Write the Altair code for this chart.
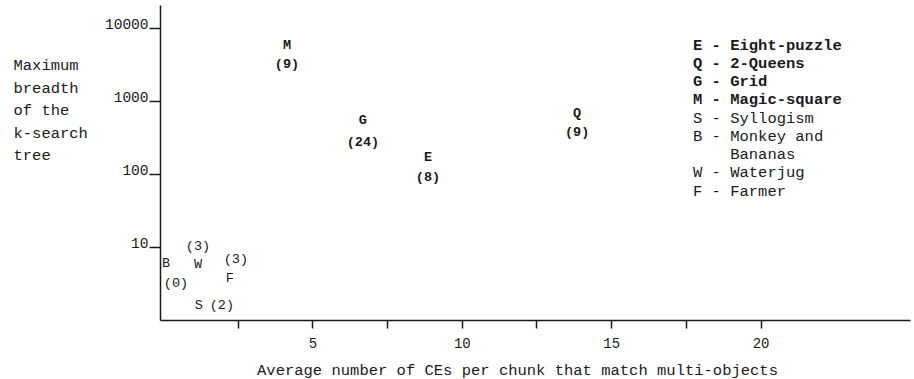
import altair as alt
import pandas as pd

# Problem domains: plotted letter, average CEs per chunk matching multi-objects,
# maximum breadth of the k-search tree, and the count shown in parentheses
letters = ["M", "G", "E", "Q", "B", "W", "F", "S"]
avg_ces = [4.15, 6.69, 8.87, 13.86, 0.1, 1.17, 2.24, 1.2]
max_breadth = [6000, 555, 172, 700, 6.05, 5.9, 3.8, 1.6]
counts = [9, 24, 8, 9, 0, 3, 3, 2]
major = ["E", "Q", "G", "M"]

legend_major = ["E - Eight-puzzle", "Q - 2-Queens", "G - Grid", "M - Magic-square"]
legend_minor_top = ["S - Syllogism", "B - Monkey and"]
legend_minor_wrap = ["Bananas"]
legend_minor_bottom = ["W - Waterjug", "F - Farmer"]

x_ticks = [2.5, 5, 7.5, 10, 12.5, 15, 17.5, 20]
y_ticks = [10, 100, 1000, 10000]

FONT = "Liberation Mono"
INK = "#1a1a1a"
KEY_SIZE = 15.5
KEY_LINE = 18.25
KEY_X = 533
KEY_Y0 = 44.5

df = pd.DataFrame({
    "letter": letters,
    "x": avg_ces,
    "y": max_breadth,
    "count": [f"({c})" for c in counts],
    "weight": ["bold" if l in major else "normal" for l in letters],
})

# where each parenthesised count sits relative to its letter (dx, dy)
count_offsets = {
    "M": (0, 19), "G": (0, 22), "E": (0, 20), "Q": (0, 19),
    "B": (10, 20), "W": (0, -18), "F": (6, -19), "S": (23, 0),
}

x_enc = alt.X(
    "x:Q",
    scale=alt.Scale(domain=[-0.1, 25], nice=False, zero=False),
    axis=alt.Axis(
        values=x_ticks,
        labelExpr="datum.value % 5 === 0 ? datum.label : ''",
        labelOverlap=False,
        title="Average number of CEs per chunk that match multi-objects",
        titleX=357, titleY=54.5, titleAlign="center", titleBaseline="alphabetic",
        grid=False, tickSize=8, tickWidth=1.5, domainWidth=1.5,
        labelPadding=8, labelFontSize=14,
    ),
)
y_enc = alt.Y(
    "y:Q",
    scale=alt.Scale(type="log", domain=[1, 21000], nice=False),
    axis=alt.Axis(
        values=y_ticks, format="d",
        title=["Maximum", "breadth", "of the", "k-search", "tree"],
        titleAngle=0, titleAlign="left", titleBaseline="alphabetic",
        titleX=-147, titleY=64.5, titleLineHeight=22.5,
        grid=False, tickSize=11, tickWidth=1.5, domainWidth=1.5,
        labelPadding=1, labelBaseline="alphabetic", labelFontSize=14.5,
    ),
)

base = alt.Chart(df).encode(x=x_enc, y=y_enc)

layers = []
for weight in ["bold", "normal"]:
    sub = base.transform_filter(alt.datum.weight == weight)
    layers.append(
        sub.mark_text(font=FONT, fontSize=13.5, fontWeight=weight, color=INK,
                      baseline="middle").encode(text="letter:N")
    )

for letter, (dx, dy) in count_offsets.items():
    weight = "bold" if letter in major else "normal"
    layers.append(
        base.transform_filter(alt.datum.letter == letter)
        .mark_text(font=FONT, fontSize=13.5, fontWeight=weight, color=INK,
                   baseline="middle", dx=dx, dy=dy)
        .encode(text="count:N")
    )

key_src = alt.Chart(pd.DataFrame({"k": [0]}))


def key_block(lines, first_row, weight, indent=0):
    """A block of key lines starting at the given row of the key."""
    return key_src.mark_text(
        font=FONT, fontSize=KEY_SIZE, fontWeight=weight, color=INK, align="left",
        baseline="alphabetic", lineHeight=KEY_LINE,
    ).encode(
        x=alt.value(KEY_X + indent * KEY_SIZE * 0.6),
        y=alt.value(KEY_Y0 + first_row * KEY_LINE),
        text=alt.value(lines),
    )


key_layers = [
    key_block(legend_major, 0, "bold"),
    key_block(legend_minor_top, 4, "normal"),
    key_block(legend_minor_wrap, 6, "normal", indent=4),
    key_block(legend_minor_bottom, 7, "normal"),
]

chart = (
    alt.layer(*layers, *key_layers)
    .properties(
        width=750, height=315,
        autosize=alt.AutoSizeParams(type="none"),
        padding={"left": 160, "top": 5, "right": 4, "bottom": 59},
        background="white",
    )
    .configure_view(strokeWidth=0)
    .configure_axis(
        domainColor=INK, tickColor=INK, labelColor=INK, titleColor=INK,
        labelFont=FONT, titleFont=FONT, titleFontSize=15.5, titleFontWeight="normal",
    )
)

chart.save("out.html", embed_options={"renderer": "svg", "actions": False})
